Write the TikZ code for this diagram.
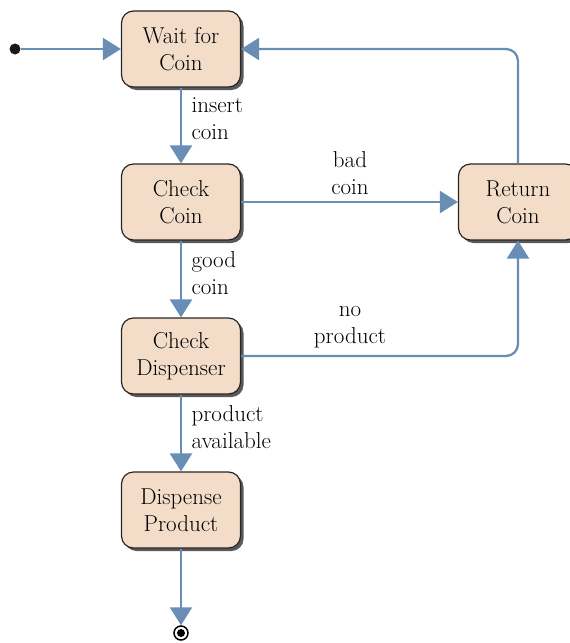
\documentclass[tikz,border=0pt]{standalone}
\usetikzlibrary{arrows.meta,shadows}
\definecolor{lineblue}{RGB}{104,142,182}
\definecolor{boxfill}{RGB}{243,221,201}
\begin{document}
\begin{tikzpicture}[x=1pt,y=-1pt,
  state/.style={draw=black!85, line width=1.2pt, fill=boxfill, rounded corners=12pt,
    minimum width=119pt, minimum height=76pt, align=center,
    font=\fontsize{23}{27}\selectfont,
    drop shadow={shadow xshift=3pt, shadow yshift=-3pt, fill=black!65, opacity=1}},
  flow/.style={draw=lineblue, line width=2.3pt, -{Triangle[length=18pt,width=22pt]}},
  lab/.style={font=\fontsize{23}{27}\selectfont, align=left}]
\useasboundingbox (0,0) rectangle (570,643);
\node[state] (wait) at (181,49) {Wait for\\Coin};
\node[state] (check) at (181,202) {Check\\Coin};
\node[state] (disp) at (181,356) {Check\\Dispenser};
\node[state] (prod) at (181,510) {Dispense\\Product};
\node[state] (ret) at (518,202) {Return\\Coin};
\node[circle, fill=black!90, inner sep=0pt, minimum size=11pt] (start) at (15,49) {};
\node[circle, draw=black, line width=1.5pt, fill=white, inner sep=0pt, minimum size=14pt] (end) at (181,633) {};
\fill[black] (end.center) circle (4pt);
\draw[flow] (start) -- (wait);
\draw[flow] (wait) -- (check);
\draw[flow] (check) -- (ret);
\draw[flow] (check) -- (disp);
\draw[flow] (disp) -- (prod);
\draw[flow] (prod) -- (end);
\draw[flow, rounded corners=12pt] (ret.north) |- (wait.east);
\draw[flow, rounded corners=12pt] (disp.east) -| (ret.south);
\node[lab, anchor=west] (l1) at (188,119) {insert\\coin};
\node[lab, anchor=west] (l2) at (188,273) {good\\coin};
\node[lab, anchor=west] (l3) at (188,427) {product\\available};
\node[lab, align=center] (l4) at (350,173) {bad\\coin};
\node[lab, align=center] (l5) at (350,327) {no\\product};
\end{tikzpicture}
\end{document}
